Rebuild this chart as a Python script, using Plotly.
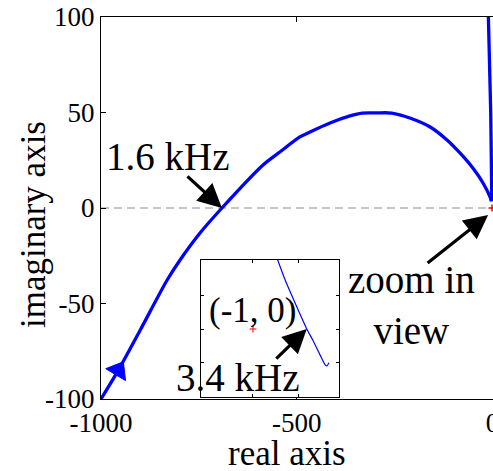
import plotly.graph_objects as go

# ---- data ----
# main Nyquist branch (real, imaginary)
main_re = [-1000, -956, -900, -831, -798, -747, -691, -586, -543, -492, -466,
           -415, -364, -333, -295, -257, -211, -159, -116, -83, -50, -24, -6.1, -2.5]
main_im = [-100, -85, -64, -37.7, -27.2, -13.1, 0, 22.5, 29.3, 37.2, 39.8,
           44.5, 48.2, 49.7, 49.8, 49.7, 47.1, 42.4, 35.6, 28.8, 20.9, 13.1, 5.8, 3.5]
# low-frequency branch going up near the origin
lf_re = [-2.5, -1.8, -4.3, -7.4, -10.5, -11.5]
lf_im = [3.5, 8.4, 49.7, 77.5, 100, 110]
# zoomed-in view around (-1, 0)
zoom_re = [-0.50, -0.30, -0.07, 0.17, 0.30, 0.46, 0.57, 0.61, 0.65]
zoom_im = [2.2, 1.46, 0.73, 0, -0.33, -0.78, -1.07, -1.10, -1.01]
# critical point
crit_re = [-1]
crit_im = [0]

x_ticks = [-1000, -500, 0]
x_ticktext = ["-1000", "-500", "0"]
y_ticks = [-100, -50, 0, 50, 100]
y_ticktext = ["-100", "-50", "0", "50", "100"]

FONT = "Liberation Serif"
BLUE = "#0000ff"

fig = go.Figure()

# main curve
fig.add_trace(go.Scatter(x=main_re, y=main_im, mode="lines",
                         line=dict(color=BLUE, width=3.3, shape="spline", smoothing=0.8),
                         xaxis="x", yaxis="y", showlegend=False, hoverinfo="skip"))
fig.add_trace(go.Scatter(x=lf_re, y=lf_im, mode="lines",
                         line=dict(color=BLUE, width=3.3), xaxis="x", yaxis="y",
                         showlegend=False, hoverinfo="skip"))
# direction arrow on the curve (oriented from the previous point)
fig.add_trace(go.Scatter(x=main_re[0:2], y=main_im[0:2], mode="markers",
                         marker=dict(symbol="triangle-up", size=[0, 20], color=BLUE,
                                     angleref="previous", angle=0, opacity=1,
                                     line=dict(width=1, color=BLUE)),
                         xaxis="x", yaxis="y", showlegend=False, hoverinfo="skip"))
# critical point in main view
fig.add_trace(go.Scatter(x=crit_re, y=crit_im, mode="markers",
                         marker=dict(symbol="cross-thin", size=5, color="red",
                                     line=dict(color="red", width=1.5)),
                         xaxis="x", yaxis="y", showlegend=False, hoverinfo="skip"))

# inset
fig.add_trace(go.Scatter(x=zoom_re, y=zoom_im, mode="lines",
                         line=dict(color=BLUE, width=1.2, shape="spline", smoothing=0.6),
                         xaxis="x2", yaxis="y2", showlegend=False, hoverinfo="skip"))
fig.add_trace(go.Scatter(x=crit_re, y=crit_im, mode="markers",
                         marker=dict(symbol="cross-thin", size=5, color="red",
                                     line=dict(color="red", width=1)),
                         xaxis="x2", yaxis="y2", showlegend=False, hoverinfo="skip"))

# dashed zero lines
fig.add_shape(type="line", xref="x domain", yref="y", x0=0, x1=1, y0=0, y1=0,
              line=dict(color="#8c8c8c", width=1.2, dash="8px,5px"), layer="below")
fig.add_shape(type="line", xref="x2 domain", yref="y2", x0=0, x1=1, y0=0, y1=0,
              line=dict(color="#8c8c8c", width=1.2, dash="8px,5px"), layer="below")

ax_common = dict(showline=True, linecolor="black", linewidth=1, ticks="inside",
                 tickcolor="black", showgrid=False, zeroline=False, automargin=False)

fig.update_layout(
    width=493, height=471,
    margin=dict(l=101, r=0, t=17, b=72, autoexpand=False),
    paper_bgcolor="white", plot_bgcolor="white",
    font=dict(family=FONT, color="black"),
    xaxis=dict(range=[-1000, 1.5], tickvals=x_ticks, ticktext=x_ticktext, ticklen=5,
               mirror="ticks", tickfont=dict(size=27, family=FONT), domain=[0, 1],
               ticklabeloverflow="allow", anchor="y", **ax_common),
    yaxis=dict(range=[-100, 100], tickvals=y_ticks, ticktext=y_ticktext, ticklen=5,
               mirror=False, tickfont=dict(size=27, family=FONT), domain=[0, 1],
               anchor="x", **ax_common),
    xaxis2=dict(range=[-2.13, 0.87], tickvals=[-1, 0], ticklen=3, mirror="ticks",
                showticklabels=False, domain=[0.2551, 0.6071], anchor="y2",
                **ax_common),
    yaxis2=dict(range=[-2.03, 2.06], tickvals=[-1, 0, 1], ticklen=3, mirror="ticks",
                showticklabels=False, domain=[0.0052, 0.3639], anchor="x2",
                **ax_common),
)

ann_font = dict(family=FONT, size=39, color="black")
title_font = dict(family=FONT, size=35, color="black")
annotations = [
    # axis titles
    dict(text="real axis", xref="paper", yref="paper", x=0.4745, y=-0.143,
         xanchor="center", yanchor="middle", showarrow=False, font=title_font),
    dict(text="imaginary axis", xref="paper", yref="paper", x=-0.1735, y=0.458,
         xanchor="center", yanchor="middle", textangle=-90, showarrow=False,
         font=title_font),
    # labels
    dict(text="1.6 kHz", xref="x", yref="y", x=-829, y=27, showarrow=False,
         xanchor="center", yanchor="middle", font=ann_font),
    dict(text="zoom in<br>view", xref="x", yref="y", x=-206, y=-51, showarrow=False,
         xanchor="center", yanchor="middle", font=ann_font),
    dict(text="(-1, 0)", xref="x2", yref="y2", x=-1.02, y=0.54, showarrow=False,
         xanchor="center", yanchor="middle", font=dict(family=FONT, size=35, color="black")),
    dict(text="3.4 kHz", xref="x2", yref="y2", x=-1.33, y=-1.46, showarrow=False,
         xanchor="center", yanchor="middle", font=ann_font),
    # arrows
    dict(text="", xref="x", yref="y", x=-691, y=0, ax=-36, ay=-33, showarrow=True,
         arrowhead=2, arrowsize=1.5, arrowwidth=3.2, arrowcolor="black"),
    dict(text="", xref="x", yref="y", x=-11, y=-3.7, ax=-62, ay=49, showarrow=True,
         arrowhead=2, arrowsize=1.5, arrowwidth=3.2, arrowcolor="black"),
    dict(text="", xref="x2", yref="y2", x=0.17, y=0, ax=-32, ay=31, showarrow=True,
         arrowhead=2, arrowsize=1.5, arrowwidth=3.2, arrowcolor="black"),
]
fig.update_layout(annotations=annotations)

fig.write_html("out.html")
